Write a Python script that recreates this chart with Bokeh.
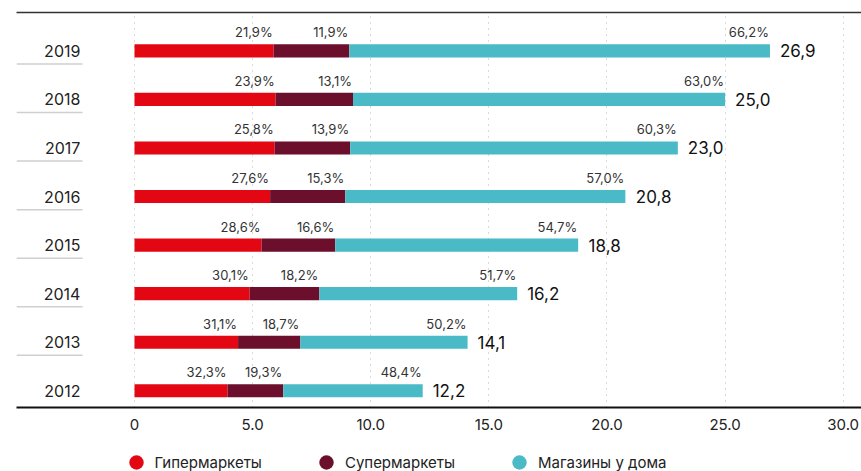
from bokeh.plotting import figure
from bokeh.layouts import column
from bokeh.models import (Range1d, FixedTicker, CustomJSTickFormatter, LinearAxis,
                          Legend, LegendItem, ColumnDataSource)
from bokeh.embed import file_html
from bokeh.resources import INLINE
from bokeh.core.properties import value

# ---------------- data ----------------
years = ["2012", "2013", "2014", "2015", "2016", "2017", "2018", "2019"]
totals = [12.2, 14.1, 16.2, 18.8, 20.8, 23.0, 25.0, 26.9]
hyper_pct = [32.3, 31.1, 30.1, 28.6, 27.6, 25.8, 23.9, 21.9]
super_pct = [19.3, 18.7, 18.2, 16.6, 15.3, 13.9, 13.1, 11.9]
conv_pct = [48.4, 50.2, 51.7, 54.7, 57.0, 60.3, 63.0, 66.2]
series_names = ["Гипермаркеты", "Супермаркеты", "Магазины у дома"]
series_colors = ["#E30613", "#6B0F2C", "#4ABAC7"]
x_ticks = [0, 5, 10, 15, 20, 25, 30]

FONT = "Inter"

def fmt(v):
    return f"{v:.1f}".replace(".", ",")

n = len(years)
idx = list(range(n))
pcts = [hyper_pct, super_pct, conv_pct]
segments = [[t * p / 100.0 for t, p in zip(totals, pc)] for pc in pcts]
lefts, rights = [], []
acc = [0.0] * n
for seg in segments:
    lefts.append(list(acc))
    acc = [a + s for a, s in zip(acc, seg)]
    rights.append(list(acc))

# ---------------- main figure ----------------
W = 861
H1 = 437
H2 = 34
p = figure(width=W, height=H1, output_backend="svg", toolbar_location=None,
           x_range=Range1d(-4.995, 30.775), y_range=Range1d(-0.344, 7.789),
           y_axis_location=None, min_border_left=16, min_border_right=0,
           min_border_top=12, min_border_bottom=30)
p.outline_line_color = None
p.background_fill_color = "white"
p.border_fill_color = "white"

# grid
p.ygrid.visible = False
p.xgrid.ticker = FixedTicker(ticks=x_ticks)
p.xgrid.grid_line_color = "#b5b5b5"
p.xgrid.grid_line_dash = "1 5"
p.xgrid.grid_line_width = 1

# bottom axis
ax = p.xaxis[0]
ax.ticker = FixedTicker(ticks=x_ticks)
ax.formatter = CustomJSTickFormatter(code="return tick == 0 ? '0' : tick.toFixed(1);")
ax.major_tick_out = 0
ax.major_tick_in = 0
ax.minor_tick_out = 0
ax.minor_tick_in = 0
ax.axis_line_color = "#111111"
ax.axis_line_width = 2
ax.major_label_text_font = FONT
ax.major_label_text_font_size = "15px"
ax.major_label_text_color = "#222222"
ax.major_label_standoff = 11

# top line
top = LinearAxis(ticker=FixedTicker(ticks=[]), major_tick_out=0, major_tick_in=0,
                 minor_tick_out=0, minor_tick_in=0, major_label_standoff=0,
                 major_label_text_font_size="0px",
                 axis_line_color="#333333", axis_line_width=1.5)
p.add_layout(top, "above")

# bars
BAR_H = 0.27
for k in range(3):
    src = ColumnDataSource(dict(y=idx, left=lefts[k], right=rights[k]))
    p.hbar(y="y", left="left", right="right", height=BAR_H, source=src,
           fill_color=series_colors[k], line_color=None)

# percentage labels (right aligned at segment end, above bar)
for k in range(3):
    src = ColumnDataSource(dict(x=rights[k], y=idx, t=[fmt(v) + "%" for v in pcts[k]]))
    p.text(x="x", y="y", text="t", source=src, x_offset=-1, y_offset=-10.5,
           text_align="right", text_baseline="bottom",
           text_font=value(FONT), text_font_size="13px", text_color="#333333")

# total labels
src_t = ColumnDataSource(dict(x=totals, y=idx, t=[fmt(v) for v in totals]))
p.text(x="x", y="y", text="t", source=src_t, x_offset=10, y_offset=0,
       text_align="left", text_baseline="middle",
       text_font=value(FONT), text_font_size="17px", text_color="#111111")

# year labels and separators on the left
YEAR_X = -2.29
src_y = ColumnDataSource(dict(x=[YEAR_X] * n, y=idx, t=years))
p.text(x="x", y="y", text="t", source=src_y, text_align="right", text_baseline="middle",
       text_font=value(FONT), text_font_size="16px", text_color="#222222")
SEP_X0, SEP_X1 = -4.995, -2.2
src_s = ColumnDataSource(dict(x0=[SEP_X0] * (n - 1), x1=[SEP_X1] * (n - 1),
                              y=[i + 0.73 for i in range(n - 1)]))
p.segment(x0="x0", y0="y", x1="x1", y1="y", source=src_s, line_color="#cfcfcf", line_width=1.5)

# ---------------- legend strip ----------------
q = figure(width=W, height=H2, output_backend="svg", toolbar_location=None,
           x_range=Range1d(0, 1), y_range=Range1d(0, 1),
           x_axis_location=None, y_axis_location=None,
           min_border_left=16, min_border_right=0, min_border_top=0, min_border_bottom=0)
q.outline_line_color = None
q.xgrid.visible = False
q.ygrid.visible = False
nan = float("nan")
items = []
for k in range(3):
    r = q.scatter(x=[nan], y=[nan], marker="circle", fill_color=series_colors[k], line_color=None)
    items.append(LegendItem(label=series_names[k], renderers=[r]))
legend = Legend(items=items, orientation="horizontal", location=(101.5, -9),
                glyph_width=36, glyph_height=36, label_standoff=1, spacing=46,
                padding=0, margin=0, border_line_alpha=0, background_fill_alpha=0,
                label_text_font=FONT, label_text_font_size="15px", label_text_color="#222222")
q.add_layout(legend)

layout = column(p, q, spacing=0)
open("out.html", "w").write(file_html(layout, INLINE))
